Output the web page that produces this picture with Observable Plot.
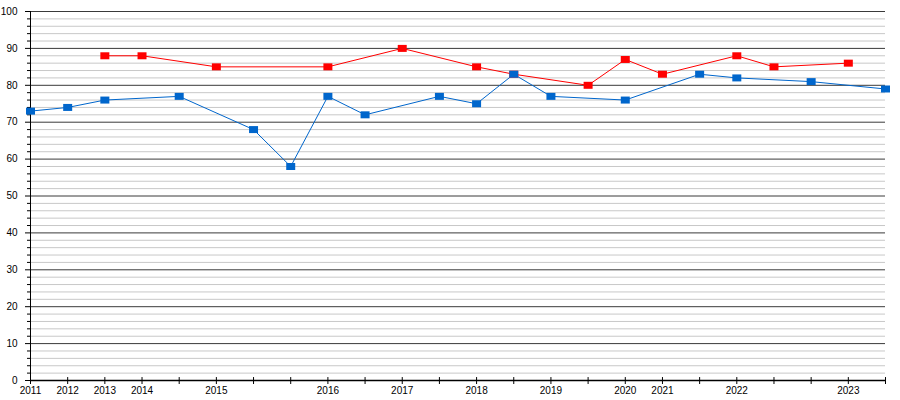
<!DOCTYPE html>
<html><head><meta charset="utf-8">
<script src="https://cdn.jsdelivr.net/npm/d3@7"></script>
<script src="https://cdn.jsdelivr.net/npm/@observablehq/plot@0.6"></script>
<style>body{margin:0;background:#fff}</style>
</head><body><div id="chart"></div>
<script>
const categories = ["2011","2012","2013","2014","","2015","","","2016","","2017","","2018","","2019","","2020","2021","","2022","","","2023",""];
const blueValues = [73,74,76,null,77,null,68,58,77,72,null,77,75,83,77,null,76,null,83,82,null,81,null,79];
const redValues  = [null,null,88,88,null,85,null,null,85,null,90,null,85,83,null,80,87,83,null,88,85,null,86,null];
const majorTicks = d3.range(0, 101, 10);
const minorTicks = d3.range(0, 101, 2).filter(v => v % 10 !== 0);

const toPts = arr => arr.map((v, i) => ({i, v})).filter(d => d.v != null);
const blue = toPts(blueValues);
const red = toPts(redValues);

const rectSym = {draw(ctx) { ctx.rect(-4.5, -3.5, 9, 7); }};

const chart = Plot.plot({
  width: 900, height: 400,
  marginLeft: 30, marginRight: 15, marginTop: 11, marginBottom: 20,
  style: {fontFamily: "'Liberation Sans', Arial, sans-serif", fontSize: "10px", background: "#fff", color: "#000"},
  x: {domain: [0, categories.length - 1], label: null},
  y: {domain: [0, 100], label: null},
  marks: [
    Plot.ruleY(minorTicks, {stroke: "#c8c8c8", strokeWidth: 1}),
    Plot.ruleY(majorTicks.filter(v => v > 0), {stroke: "#3a3a3a", strokeWidth: 1}),
    Plot.axisY({ticks: minorTicks, tickSize: 3, tickFormat: () => "", label: null, stroke: "#000", strokeOpacity: 1}),
    Plot.axisY({ticks: majorTicks, tickSize: 5, tickPadding: 8, label: null, stroke: "#000", strokeOpacity: 1, fill: "#000"}),
    Plot.axisX({ticks: d3.range(categories.length), tickSize: 4, tickPadding: 2, tickFormat: i => categories[i], label: null, stroke: "#000", strokeOpacity: 1, fill: "#000"}),
    Plot.ruleX(d3.range(categories.length), {x: d => d, y1: 0, y2: 0.8, stroke: "#000"}),
    Plot.ruleX([0], {stroke: "#000"}),
    Plot.ruleY([0], {stroke: "#000", strokeWidth: 1.5}),
    Plot.line(red, {x: "i", y: "v", stroke: "#ff0000", strokeWidth: 1}),
    Plot.line(blue, {x: "i", y: "v", stroke: "#0066cc", strokeWidth: 1}),
    Plot.dot(red, {x: "i", y: "v", symbol: rectSym, fill: "#ff0000", stroke: "none"}),
    Plot.dot(blue, {x: "i", y: "v", symbol: rectSym, fill: "#0066cc", stroke: "none"})
  ]
});
document.getElementById("chart").append(chart);
</script>
</body></html>
